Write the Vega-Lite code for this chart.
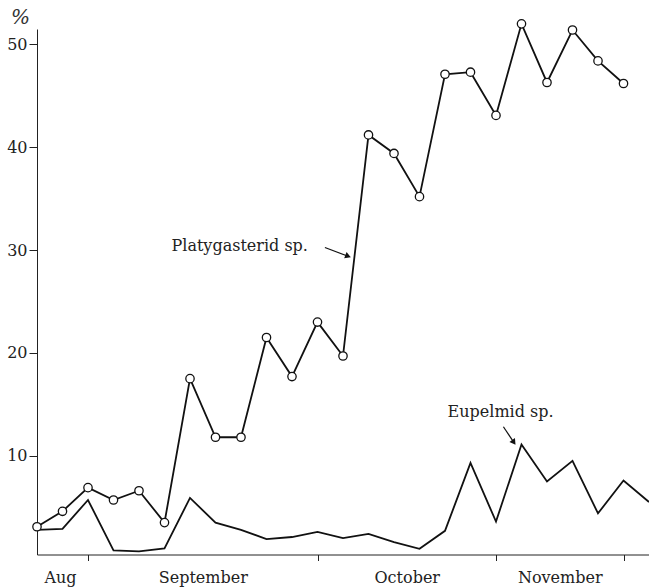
{
  "$schema": "https://vega.github.io/schema/vega-lite/v6.json",
  "width": 612,
  "height": 525.5,
  "autosize": {"type": "none"},
  "padding": {"left": 37, "top": 29, "right": 0, "bottom": 32.5},
  "background": "white",
  "config": {
    "view": {"stroke": null},
    "font": "DejaVu Serif",
    "axis": {
      "domainColor": "#222",
      "domainWidth": 1,
      "tickColor": "#222",
      "labelColor": "#222",
      "titleColor": "#333",
      "labelFont": "DejaVu Serif",
      "titleFont": "DejaVu Serif",
      "grid": false
    }
  },
  "datasets": {
    "series": [
      {"series": "Platygasterid sp.", "i": 0, "v": 3.1},
      {"series": "Platygasterid sp.", "i": 1, "v": 4.6},
      {"series": "Platygasterid sp.", "i": 2, "v": 6.9},
      {"series": "Platygasterid sp.", "i": 3, "v": 5.7},
      {"series": "Platygasterid sp.", "i": 4, "v": 6.6},
      {"series": "Platygasterid sp.", "i": 5, "v": 3.5},
      {"series": "Platygasterid sp.", "i": 6, "v": 17.5},
      {"series": "Platygasterid sp.", "i": 7, "v": 11.8},
      {"series": "Platygasterid sp.", "i": 8, "v": 11.8},
      {"series": "Platygasterid sp.", "i": 9, "v": 21.5},
      {"series": "Platygasterid sp.", "i": 10, "v": 17.7},
      {"series": "Platygasterid sp.", "i": 11, "v": 23.0},
      {"series": "Platygasterid sp.", "i": 12, "v": 19.7},
      {"series": "Platygasterid sp.", "i": 13, "v": 41.2},
      {"series": "Platygasterid sp.", "i": 14, "v": 39.4},
      {"series": "Platygasterid sp.", "i": 15, "v": 35.2},
      {"series": "Platygasterid sp.", "i": 16, "v": 47.1},
      {"series": "Platygasterid sp.", "i": 17, "v": 47.3},
      {"series": "Platygasterid sp.", "i": 18, "v": 43.1},
      {"series": "Platygasterid sp.", "i": 19, "v": 52.0},
      {"series": "Platygasterid sp.", "i": 20, "v": 46.3},
      {"series": "Platygasterid sp.", "i": 21, "v": 51.4},
      {"series": "Platygasterid sp.", "i": 22, "v": 48.4},
      {"series": "Platygasterid sp.", "i": 23, "v": 46.2},
      {"series": "Eupelmid sp.", "i": 0, "v": 2.8},
      {"series": "Eupelmid sp.", "i": 1, "v": 2.9},
      {"series": "Eupelmid sp.", "i": 2, "v": 5.7},
      {"series": "Eupelmid sp.", "i": 3, "v": 0.8},
      {"series": "Eupelmid sp.", "i": 4, "v": 0.7},
      {"series": "Eupelmid sp.", "i": 5, "v": 1.0},
      {"series": "Eupelmid sp.", "i": 6, "v": 5.9},
      {"series": "Eupelmid sp.", "i": 7, "v": 3.5},
      {"series": "Eupelmid sp.", "i": 8, "v": 2.8},
      {"series": "Eupelmid sp.", "i": 9, "v": 1.9},
      {"series": "Eupelmid sp.", "i": 10, "v": 2.1},
      {"series": "Eupelmid sp.", "i": 11, "v": 2.6},
      {"series": "Eupelmid sp.", "i": 12, "v": 2.0},
      {"series": "Eupelmid sp.", "i": 13, "v": 2.4},
      {"series": "Eupelmid sp.", "i": 14, "v": 1.6},
      {"series": "Eupelmid sp.", "i": 15, "v": 0.95},
      {"series": "Eupelmid sp.", "i": 16, "v": 2.7},
      {"series": "Eupelmid sp.", "i": 17, "v": 9.3},
      {"series": "Eupelmid sp.", "i": 18, "v": 3.6},
      {"series": "Eupelmid sp.", "i": 19, "v": 11.1},
      {"series": "Eupelmid sp.", "i": 20, "v": 7.5},
      {"series": "Eupelmid sp.", "i": 21, "v": 9.5},
      {"series": "Eupelmid sp.", "i": 22, "v": 4.4},
      {"series": "Eupelmid sp.", "i": 23, "v": 7.6},
      {"series": "Eupelmid sp.", "i": 24, "v": 5.5}
    ],
    "notes": [
      {"label": "Platygasterid sp.", "tx": 7.95, "ty": 29.9, "x1": 11.29, "y1": 30.25, "x2": 12.2, "y2": 29.4},
      {"label": "Eupelmid sp.", "tx": 18.18, "ty": 13.8, "x1": 18.29, "y1": 12.82, "x2": 18.7, "y2": 11.3}
    ]
  },
  "layer": [
    {
      "data": {"name": "series"},
      "mark": {"type": "line", "color": "#111", "strokeWidth": 1.8},
      "encoding": {
        "x": {
          "field": "i", "type": "quantitative",
          "scale": {"domain": [0, 24], "nice": false, "zero": false},
          "axis": {
            "title": null,
            "values": [0.9, 2, 6.5, 11, 14.5, 18, 20.5, 23],
            "labelExpr": "datum.value == 0.9 ? 'Aug' : datum.value == 6.5 ? 'September' : datum.value == 14.5 ? 'October' : datum.value == 20.5 ? 'November' : ''",
            "tickOpacity": {"condition": {"test": "datum.value == 2 || datum.value == 11 || datum.value == 18 || datum.value == 23", "value": 1}, "value": 0},
            "tickSize": 6,
            "labelPadding": 9,
            "labelFontSize": 16,
            "labelFlush": false,
            "labelOverlap": false
          }
        },
        "y": {
          "field": "v", "type": "quantitative",
          "scale": {"domain": [0.4, 51.5], "nice": false, "zero": false},
          "axis": {
            "values": [10, 20, 30, 40, 50],
            "tickSize": 8,
            "labelPadding": 2,
            "labelFontSize": 16,
            "title": "%",
            "titleAngle": 0,
            "titleX": -17,
            "titleY": -12,
            "titleAlign": "center",
            "titleBaseline": "middle",
            "titleFontSize": 20,
            "titleFontStyle": "italic",
            "titleFontWeight": "normal"
          }
        },
        "detail": {"field": "series"}
      }
    },
    {
      "data": {"name": "series"},
      "transform": [{"filter": "datum.series == 'Platygasterid sp.'"}],
      "mark": {"type": "point", "shape": "circle", "filled": true, "fill": "white", "stroke": "#111", "strokeWidth": 1.3, "size": 70, "opacity": 1},
      "encoding": {
        "x": {"field": "i", "type": "quantitative"},
        "y": {"field": "v", "type": "quantitative"}
      }
    },
    {
      "data": {"name": "notes"},
      "mark": {"type": "text", "font": "DejaVu Serif", "fontSize": 16, "color": "#222", "align": "center", "baseline": "alphabetic"},
      "encoding": {
        "x": {"field": "tx", "type": "quantitative"},
        "y": {"field": "ty", "type": "quantitative"},
        "text": {"field": "label"}
      }
    },
    {
      "data": {"name": "notes"},
      "mark": {"type": "rule", "color": "#111", "strokeWidth": 1.2},
      "encoding": {
        "x": {"field": "x1", "type": "quantitative"},
        "y": {"field": "y1", "type": "quantitative"},
        "x2": {"field": "x2"},
        "y2": {"field": "y2"}
      }
    },
    {
      "data": {"name": "notes"},
      "transform": [{"filter": "datum.label == 'Platygasterid sp.'"}],
      "mark": {"type": "point", "shape": "triangle-right", "filled": true, "color": "#111", "size": 45, "angle": 21, "opacity": 1},
      "encoding": {
        "x": {"field": "x2", "type": "quantitative"},
        "y": {"field": "y2", "type": "quantitative"}
      }
    },
    {
      "data": {"name": "notes"},
      "transform": [{"filter": "datum.label == 'Eupelmid sp.'"}],
      "mark": {"type": "point", "shape": "triangle-right", "filled": true, "color": "#111", "size": 45, "angle": 55, "opacity": 1},
      "encoding": {
        "x": {"field": "x2", "type": "quantitative"},
        "y": {"field": "y2", "type": "quantitative"}
      }
    }
  ]
}
